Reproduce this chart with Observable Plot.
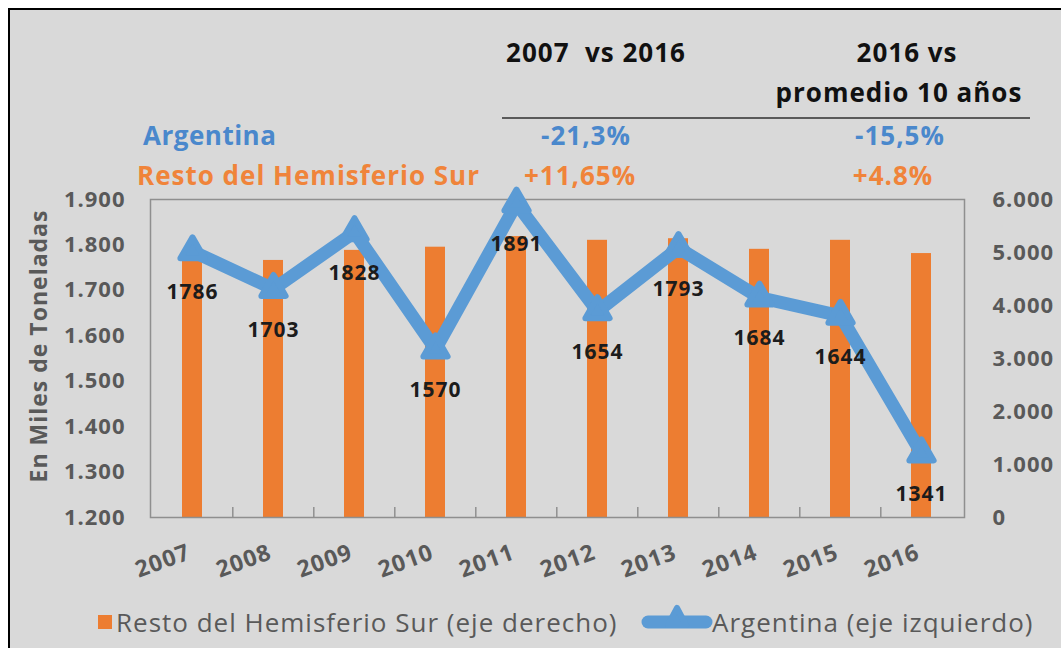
<!DOCTYPE html>
<html><head><meta charset="utf-8">
<script src="https://cdn.jsdelivr.net/npm/d3@7"></script>
<script src="https://cdn.jsdelivr.net/npm/@observablehq/plot@0.6"></script>
<style>
body{margin:0;background:#fff;overflow:hidden;font-family:"Open Sans",sans-serif}
#wrap{position:relative;width:1061px;height:648px;overflow:hidden}
#panel{position:absolute;left:8px;top:8px;width:1100px;height:700px;background:#d9d9d9;border:2px solid #000;box-sizing:border-box}
#chart{position:absolute;left:0;top:0}
.t{position:absolute;transform:translate(-50%,-50%);white-space:nowrap;font-weight:700;line-height:1;letter-spacing:1px}
.l{position:absolute;transform:translate(0,-50%);white-space:nowrap;line-height:1;letter-spacing:1px}
</style></head><body>
<div id="wrap">
  <div id="panel"></div>
  <div id="chart"></div>
  <div class="t" style="left:596px;top:52px;font-size:26px;color:#111">2007&nbsp; vs 2016</div>
  <div class="t" style="left:907px;top:52px;font-size:26px;color:#111">2016 vs</div>
  <div class="t" style="left:899px;top:92px;font-size:26px;color:#111">promedio 10 años</div>
  <div style="position:absolute;left:502px;top:117px;width:528px;height:2px;background:#5a5a5a"></div>
  <div class="l" style="left:143px;top:135px;font-size:26px;font-weight:700;color:#4a88cc;letter-spacing:0.5px">Argentina</div>
  <div class="t" style="left:586px;top:135px;font-size:26px;color:#4a88cc">-21,3%</div>
  <div class="t" style="left:900px;top:135px;font-size:26px;color:#4a88cc">-15,5%</div>
  <div class="l" style="left:137px;top:175px;font-size:26px;font-weight:700;color:#f0843a">Resto del Hemisferio Sur</div>
  <div class="t" style="left:580px;top:175px;font-size:26px;color:#f0843a">+11,65%</div>
  <div class="t" style="left:893px;top:175px;font-size:26px;color:#f0843a">+4.8%</div>
  <div class="t" style="left:38px;top:346px;font-size:23px;color:#595959;transform:translate(-50%,-50%) rotate(-90deg)">En Miles de Toneladas</div>
  <div style="position:absolute;left:98px;top:615px;width:14px;height:14px;background:#ed7d31"></div>
  <div class="l" id="leg1" style="left:116px;top:622px;font-size:26px;color:#595959">Resto del Hemisferio Sur (eje derecho)</div>
  <svg style="position:absolute;left:640px;top:600px" width="74" height="44">
    <line x1="8" y1="22" x2="66" y2="22" stroke="#5b9bd5" stroke-width="13" stroke-linecap="round"/>
    <path d="M37,8 L46,25 L28,25 Z" fill="#5b9bd5" stroke="#5b9bd5" stroke-width="6" stroke-linejoin="round"/>
  </svg>
  <div class="l" id="leg2" style="left:712px;top:622px;font-size:26px;color:#595959">Argentina (eje izquierdo)</div>
</div>
<script>
const years = ["2007","2008","2009","2010","2011","2012","2013","2014","2015","2016"];
const argentina = [1786,1703,1828,1570,1891,1654,1793,1684,1644,1341];
const resto = [4950,4850,5040,5100,5300,5230,5260,5060,5230,4980];
const leftTicks = [1200,1300,1400,1500,1600,1700,1800,1900];
const rightTicks = [0,1000,2000,3000,4000,5000,6000];

const leftMin = 1200, leftMax = 1900, rightMax = 6000;
const toLeft = v => leftMin + v * (leftMax - leftMin) / rightMax;
const fromLeft = v => Math.round((v - leftMin) * rightMax / (leftMax - leftMin));
const fmt = v => d3.format(",")(v).replace(/,/g, ".");

const W = 1061, H = 648, ml = 150, mr = 97, mt = 199, mb = 131;
const step = (W - ml - mr) / years.length;
const data = years.map((y, i) => ({year: y, arg: argentina[i], resto: resto[i]}));
const grey = "#595959";

const chart = Plot.plot({
  width: W, height: H,
  marginLeft: ml, marginRight: mr, marginTop: mt, marginBottom: mb,
  style: {background: "transparent", fontFamily: "'Open Sans', sans-serif", letterSpacing: "1px"},
  x: {type: "band", domain: years, paddingInner: 0.75, paddingOuter: 0.375},
  y: {domain: [leftMin, leftMax]},
  marks: [
    Plot.barY(data, {x: "year", y1: leftMin, y2: d => toLeft(d.resto), fill: "#ed7d31"}),
    Plot.frame({stroke: "#8f8f8f", strokeWidth: 1.5}),
    Plot.axisX(years.slice(1), {anchor: "bottom", tickSize: 10, dx: -step / 2, dy: -10, text: null, stroke: "#8f8f8f", strokeWidth: 1.5, label: null}),
    Plot.axisX({anchor: "bottom", tickSize: 0, tickPadding: 34, tickRotate: -20, dx: -3, fontSize: 23, fontWeight: 700, color: grey, label: null}),
    Plot.axisY({anchor: "left", ticks: leftTicks, tickSize: 0, tickPadding: 25, tickFormat: fmt, fontSize: 22, fontWeight: 700, color: grey, label: null}),
    Plot.axisY({anchor: "right", ticks: rightTicks.map(toLeft), tickSize: 0, tickPadding: 28, tickFormat: d => fmt(fromLeft(d)), fontSize: 22, fontWeight: 700, color: grey, label: null}),
    Plot.line(data, {x: "year", y: "arg", stroke: "#5b9bd5", strokeWidth: 13, strokeLinejoin: "round", strokeLinecap: "round"}),
    Plot.dot(data, {x: "year", y: "arg", symbol: "triangle", r: 9, fill: "#5b9bd5", stroke: "#5b9bd5", strokeWidth: 6, strokeLinejoin: "round"}),
    Plot.text(data, {x: "year", y: "arg", text: d => String(d.arg), dy: 41, fontSize: 21, fontWeight: 700, fill: "#1c1c1c"})
  ]
});
document.getElementById("chart").appendChild(chart);
</script>
</body></html>
